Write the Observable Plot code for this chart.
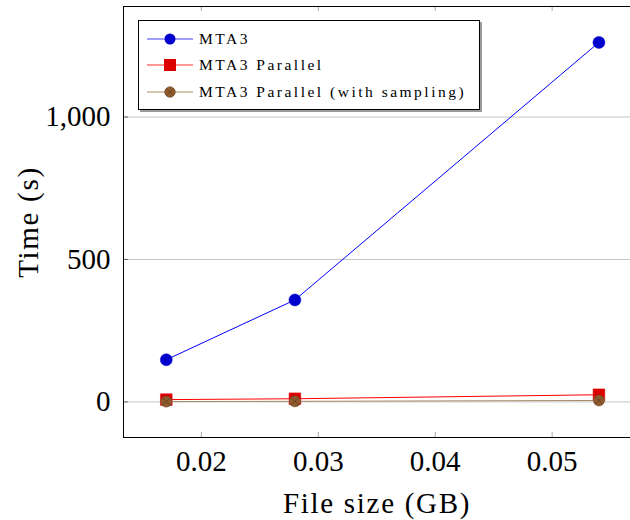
<!DOCTYPE html>
<html>
<head>
<meta charset="utf-8">
<script src="https://cdn.jsdelivr.net/npm/d3@7"></script>
<script src="https://cdn.jsdelivr.net/npm/@observablehq/plot@0.6"></script>
<style>
  body { margin: 0; background: #fff; font-family: 'Liberation Serif'; }
  #wrap { position: relative; width: 630px; height: 520px; overflow: hidden; }
  #wrap svg, #wrap svg text { font-family: 'Liberation Serif'; }
  #legend { position: absolute; left: 138px; top: 20px; width: 340px; height: 88px;
    border: 1px solid #000; background: #fff; box-shadow: 2px 2px 0 #9a9a9a;
    font-family: 'Liberation Serif'; font-size: 15.5px; letter-spacing: 2.5px; color: #000; }
  .row { position: absolute; left: 0; height: 20px; display: flex; align-items: center; white-space: nowrap; }
  .row svg { margin-left: 8px; }
  .row span { margin-left: 6px; }
</style>
</head>
<body>
<div id="wrap"></div>
<script>
const sizes = [0.017, 0.028, 0.054];
const mta3 = [148, 358, 1262];
const parallel = [8, 11, 25];
const sampling = [1, 2, 5];
const seriesNames = ["MTA3", "MTA3 Parallel", "MTA3 Parallel (with sampling)"];
const xTicks = [0.02, 0.03, 0.04, 0.05];
const yTicks = [0, 500, 1000];
const xLabel = "File size (GB)";
const yLabel = "Time (s)";

const rows = (vals, s) => sizes.map((x, i) => ({x, y: vals[i], s}));
const dBlue = rows(mta3, seriesNames[0]);
const dRed = rows(parallel, seriesNames[1]);
const dBrown = rows(sampling, seriesNames[2]);

const xDom = [0.01334, 0.0567];
const yDom = [-125, 1388];
const plotH = 520 - 6 - 83;
const plotW = 630 - 123;

const chart = Plot.plot({
  width: 630, height: 520,
  marginLeft: 123, marginRight: 0, marginTop: 6, marginBottom: 83,
  style: {fontFamily: "'Liberation Serif'", fontSize: "29px", color: "#000", background: "#fff"},
  x: {domain: xDom},
  y: {domain: yDom},
  marks: [
    Plot.gridY(yTicks, {stroke: "#c4c4c4", strokeOpacity: 1}),
    Plot.ruleY(yTicks, {stroke: "#666", insetRight: plotW - 5}),
    Plot.ruleX(xTicks, {stroke: "#aaa", insetTop: plotH - 5}),
    Plot.ruleX(xTicks, {stroke: "#aaa", insetBottom: plotH - 5}),
    Plot.axisX({ticks: xTicks, tickSize: 0, tickPadding: 13, tickFormat: d3.format(".2f"), fontSize: 29,
      label: xLabel, labelAnchor: "center", labelArrow: "none", labelOffset: 75}),
    Plot.axisY({ticks: yTicks, tickSize: 0, tickPadding: 13, tickFormat: d3.format(","), fontSize: 29,
      label: yLabel, labelAnchor: "center", labelArrow: "none", labelOffset: 106}),
    Plot.ruleX([xDom[0]], {stroke: "#000"}),
    Plot.ruleY([yDom[0], yDom[1]], {stroke: "#000"}),
    Plot.line(dBlue, {x: "x", y: "y", stroke: "#0000ff", strokeWidth: 1}),
    Plot.dot(dBlue, {x: "x", y: "y", r: 6, fill: "#0000cc", stroke: "#0000cc", strokeWidth: 0.5}),
    Plot.line(dRed, {x: "x", y: "y", stroke: "#ff0000", strokeWidth: 1}),
    Plot.dot(dRed, {x: "x", y: "y", symbol: "square", r: 6.6, fill: "#dd0000", stroke: "#dd0000", strokeWidth: 0.5}),
    Plot.line(dBrown, {x: "x", y: "y", stroke: "#a88a68", strokeWidth: 1}),
    Plot.dot(dBrown, {x: "x", y: "y", r: 5.5, fill: "#8e5c2e", stroke: "#6e4420", strokeWidth: 0.6}),
    Plot.dot(dBrown, {x: "x", y: "y", symbol: "times", r: 3.4, stroke: "#5a3818", strokeWidth: 0.7})
  ]
});
chart.setAttribute("font-family", "Liberation Serif");
chart.querySelectorAll("text").forEach(t => {
  if (t.textContent === xLabel || t.textContent === yLabel) t.setAttribute("letter-spacing", "1.7");
});
const wrap = document.getElementById("wrap");
wrap.appendChild(chart);

const legend = document.createElement("div");
legend.id = "legend";
const specs = [
  {line: "#4040ff", mark: "circle", fill: "#0000cc", top: 8},
  {line: "#ff3030", mark: "square", fill: "#dd0000", top: 34},
  {line: "#a88a68", mark: "otimes", fill: "#8e5c2e", top: 61}
];
specs.forEach((sp, i) => {
  const row = document.createElement("div");
  row.className = "row";
  row.style.top = sp.top + "px";
  let m;
  if (sp.mark === "circle") m = `<circle cx="23" cy="10" r="5.5" fill="${sp.fill}"/>`;
  else if (sp.mark === "square") m = `<rect x="17" y="4" width="12" height="12" fill="${sp.fill}"/>`;
  else m = `<circle cx="23" cy="10" r="5.3" fill="${sp.fill}" stroke="#6e4420" stroke-width="0.6"/><path d="M19.5 6.5L26.5 13.5M26.5 6.5L19.5 13.5" stroke="#5a3818" stroke-width="0.7"/>`;
  row.innerHTML = `<svg width="46" height="20"><line x1="0" x2="46" y1="10" y2="10" stroke="${sp.line}" stroke-width="1"/>${m}</svg><span>${seriesNames[i]}</span>`;
  legend.appendChild(row);
});
wrap.appendChild(legend);
</script>
</body>
</html>
